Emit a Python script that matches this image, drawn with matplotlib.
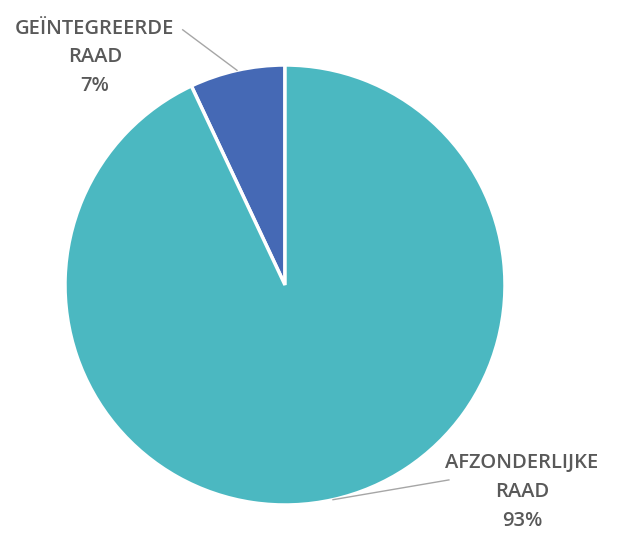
import numpy as np
import matplotlib.pyplot as plt

labels = ["GEÏNTEGREERDE\nRAAD", "AFZONDERLIJKE\nRAAD"]
values = [7, 93]
colors = ["#4569b5", "#4bb8c1"]

fig = plt.figure(figsize=(6.26, 5.33), dpi=100)
ax = fig.add_axes([65 / 626, 28 / 533, 440 / 626, 440 / 533])

wedges, _ = ax.pie(values, colors=colors, startangle=90, counterclock=True,
                   radius=1, wedgeprops=dict(edgecolor="white", linewidth=2.5))
ax.set_xlim(-1, 1)
ax.set_ylim(-1, 1)
ax.set_aspect("equal")

# label positions and leader-line ends (data units, radius = 1)
text_pos = [(-0.864, 1.036), (1.077, -0.941)]
line_end = [(-0.465, 1.16), (0.745, -0.886)]

for w, lab, v, tp, le in zip(wedges, labels, values, text_pos, line_end):
    mid = np.deg2rad((w.theta1 + w.theta2) / 2)
    p = (np.cos(mid), np.sin(mid))
    ax.plot([p[0], le[0]], [p[1], le[1]], color="#a6a6a6", lw=1, clip_on=False)
    ax.text(tp[0], tp[1], f"{lab}\n{v}%", ha="center", va="center",
            fontsize=14.5, color="#595959", family="Open Sans", weight="semibold",
            linespacing=1.57, clip_on=False)

fig.savefig("out.png", dpi=100)
